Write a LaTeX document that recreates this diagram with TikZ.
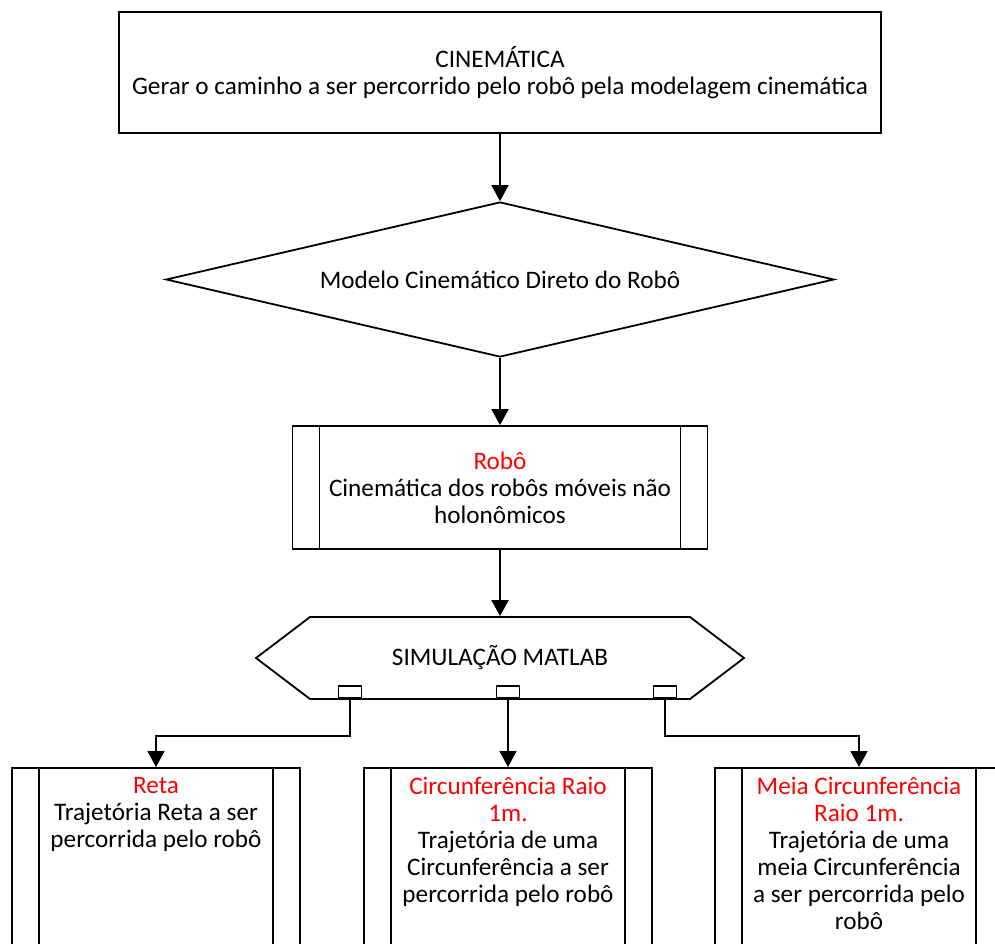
\documentclass[tikz,border=0pt]{standalone}
\usepackage{fontspec}
\setmainfont{Carlito}
\usetikzlibrary{shapes.geometric,shapes.symbols,arrows.meta}

\tikzset{
  box/.style={draw, line width=0.9pt, rectangle, inner sep=0pt},
  subbox/.style={box, path picture={
      \draw[line width=0.9pt] ([xshift=13.5pt]path picture bounding box.north west) -- ([xshift=13.5pt]path picture bounding box.south west);
      \draw[line width=0.9pt] ([xshift=-13.5pt]path picture bounding box.north east) -- ([xshift=-13.5pt]path picture bounding box.south east);}},
  port/.style={box, minimum width=11.5pt, minimum height=6pt, anchor=south},
  boxtext/.style={anchor=north, inner sep=0pt, execute at begin node=\strut},
  pfeil/.style={line width=0.9pt, -{Triangle[width=8.5pt,length=8pt]}},
}
\newcommand{\rottext}[1]{\textcolor{red}{#1}}

\begin{document}
\begin{tikzpicture}[x=0.5pt, y=-0.5pt, font=\fontsize{12.6}{13.5}\selectfont, align=center]
\useasboundingbox (0,0) rectangle (995,943);
\clip (0,0) rectangle (995,943);

\node[box, minimum width=381pt, minimum height=60.5pt] (1) at (500,72.5) {CINEMÁTICA\\Gerar o caminho a ser percorrido pelo robô pela modelagem cinemática};
\node[box, diamond, aspect=4.3, minimum width=334pt, minimum height=77.5pt] (2) at (500,279.5) {Modelo Cinemático Direto do Robô};
\node[subbox, minimum width=207.5pt, minimum height=61.5pt] (3) at (500,487.5) {\rottext{Robô}\\Cinemática dos robôs móveis não\\holonômicos};
\node[box, signal, signal to=west and east, signal pointer angle=74.4, minimum width=244pt, minimum height=41pt] (4) at (500,658) {SIMULAÇÃO MATLAB};

\node[port] (5) at (350,699) {};
\node[port] (6) at (508,699) {};
\node[port] (7) at (665,699) {};

\node[subbox, anchor=north, minimum width=144pt, minimum height=120pt] (8) at (156,767) {};
\node[subbox, anchor=north, minimum width=144pt, minimum height=120pt] (9) at (508,767) {};
\node[subbox, anchor=north, minimum width=144pt, minimum height=120pt] (10) at (859,767) {};

\node[boxtext] (11) at ([yshift=-5pt]8.north) {\rottext{Reta}\\Trajetória Reta a ser\\percorrida pelo robô};
\node[boxtext] (12) at ([yshift=-5pt]9.north) {\rottext{Circunferência Raio}\\\rottext{1m.}\\Trajetória de uma\\Circunferência a ser\\percorrida pelo robô};
\node[boxtext] (13) at ([yshift=-5pt]10.north) {\rottext{Meia Circunferência}\\\rottext{Raio 1m.}\\Trajetória de uma\\meia Circunferência\\a ser percorrida pelo\\robô};

\draw[pfeil] (1) -- (2);
\draw[pfeil] (2) -- (3);
\draw[pfeil] (3) -- (4);
\draw[pfeil] (5.south) -- ++(0,37) -| (8.north);
\draw[pfeil] (6.south) -- (9.north);
\draw[pfeil] (7.south) -- ++(0,37) -| (10.north);

\end{tikzpicture}
\end{document}
